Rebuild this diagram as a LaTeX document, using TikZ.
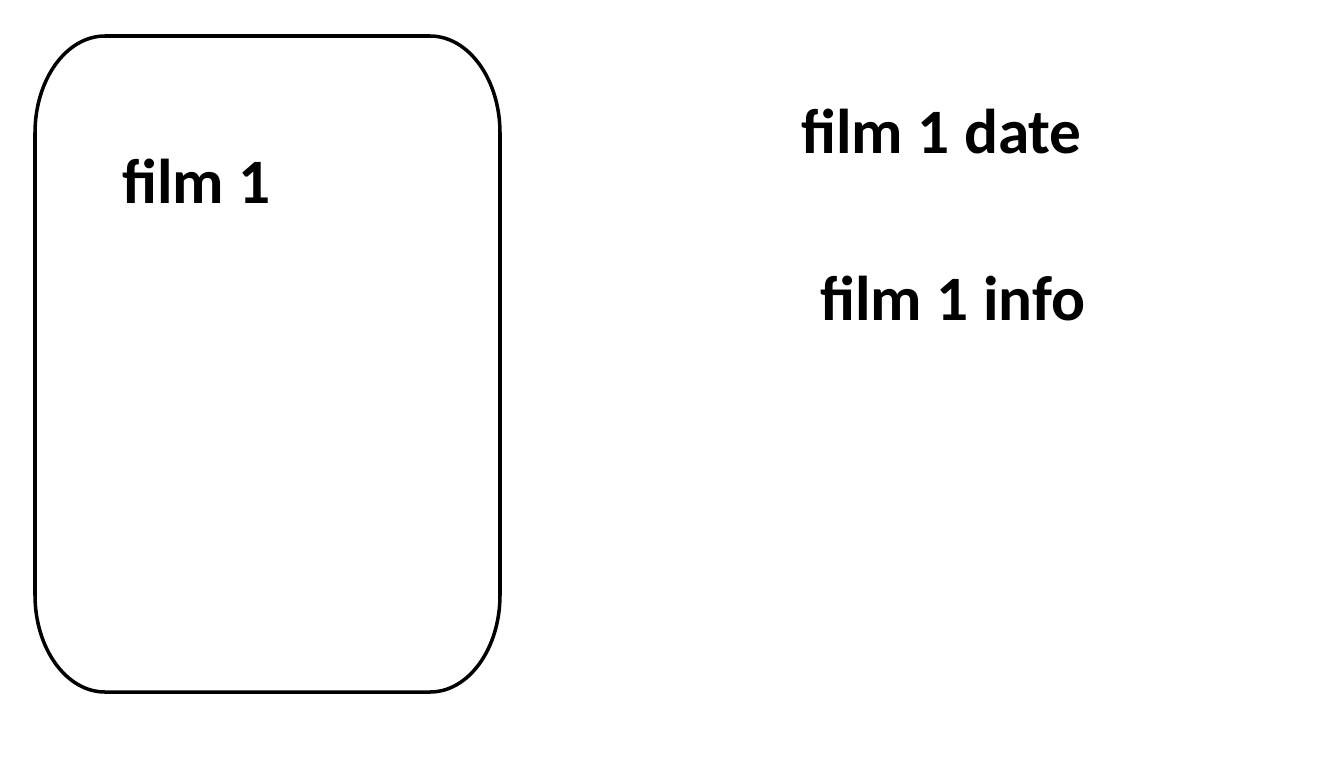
\documentclass[tikz,border=0pt]{standalone}
\usepackage{fontspec}
\setmainfont{Carlito}
\begin{document}
\begin{tikzpicture}[
label/.style={
  anchor=base west,
  inner sep=0pt,
  font=\bfseries\fontsize{36}{40}\selectfont
},
card/.style={
  draw,
  line width=2pt
}
]
\useasboundingbox (0,0) rectangle (26.4,-15.26);
\draw[card] (2.1,-0.72) -- (8.6,-0.72)
  arc[start angle=90,end angle=0,x radius=1.4,y radius=1.94] -- (10,-11.9)
  arc[start angle=0,end angle=-90,x radius=1.4,y radius=1.94] -- (2.1,-13.84)
  arc[start angle=270,end angle=180,x radius=1.4,y radius=1.94] -- (0.7,-2.66)
  arc[start angle=180,end angle=90,x radius=1.4,y radius=1.94] -- cycle;
\node[label] (film) at (2.44,-4.06) {film 1};
\node[label] (date) at (16.02,-3.06) {film 1 date};
\node[label] (info) at (16.4,-6.4) {film 1 info};
\end{tikzpicture}
\end{document}
